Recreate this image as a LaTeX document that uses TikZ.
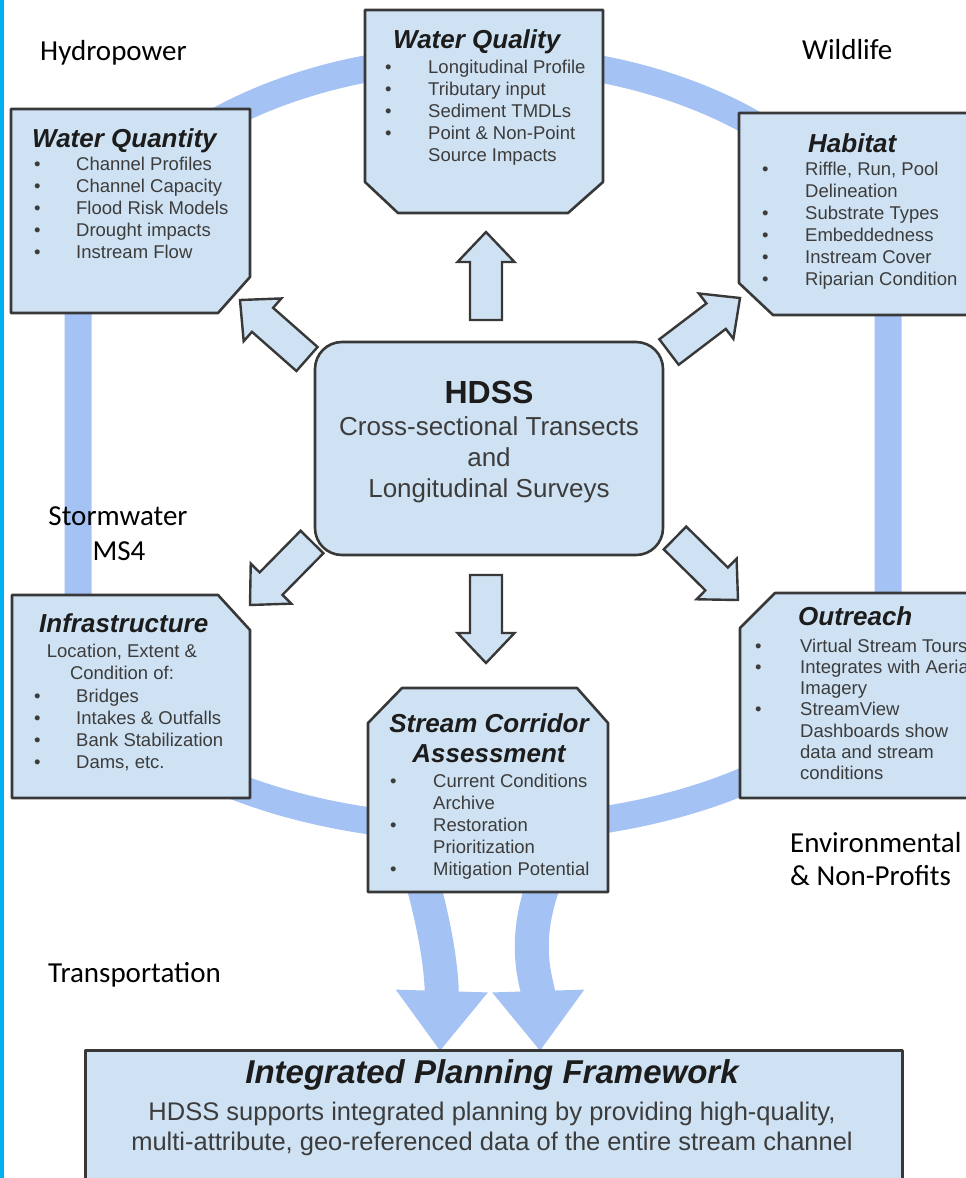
\documentclass[tikz,border=0pt]{standalone}
\usepackage{fontspec}
\setmainfont{Liberation Sans}
\newfontfamily\calib{Carlito}
\usetikzlibrary{arrows.meta, calc}

\definecolor{boxc}{HTML}{CFE2F3}
\definecolor{ringc}{HTML}{A4C2F4}
\definecolor{edgec}{HTML}{383838}
\definecolor{txtc}{HTML}{3C3C3C}
\definecolor{ttlc}{HTML}{1C1C1C}
\definecolor{barc}{HTML}{00B0F0}

\newcommand{\blist}[2][42pt]{\begin{tabular}[t]{@{}p{#1}@{}l@{}}#2\end{tabular}}
\newcommand{\ctab}[1]{\begin{tabular}[t]{@{}c@{}}#1\end{tabular}}
% block arrow from tail #1 to tip #2
\newcommand{\blockarrow}[2]{%
  \coordinate (hb) at ($(#2)!30pt!(#1)$);
  \draw[barrow] ($(#1)!16pt!90:(#2)$) -- ($(hb)!16pt!90:(#2)$) -- ($(hb)!28.5pt!90:(#2)$) -- (#2)
    -- ($(hb)!28.5pt!-90:(#2)$) -- ($(hb)!16pt!-90:(#2)$) -- ($(#1)!16pt!-90:(#2)$) -- cycle;
}

\begin{document}
\begin{tikzpicture}[x=1pt, y=-1pt,
  boxd/.style={draw=edgec, line width=2.6pt, fill=boxc, line join=round},
  barrow/.style={draw=edgec, line width=2.4pt, fill=boxc, line join=miter},
  ring/.style={draw=ringc, line width=27pt},
  bigarr/.style={draw=ringc, line width=34pt, -{Triangle[width=88pt,length=60pt]}},
  ttl/.style={font=\fontsize{26}{30}\selectfont\bfseries\itshape, text=ttlc, inner sep=0pt, anchor=base west},
  lst/.style={font=\fontsize{18.5}{22}\selectfont, text=txtc, inner sep=0pt, anchor=base west},
  lbl/.style={font=\calib\fontsize{29}{35}\selectfont, inner sep=0pt, anchor=base west}]

\useasboundingbox (0,0) rectangle (966,1178);
\clip (0,0) rectangle (966,1178);
\fill[white] (0,0) rectangle (966,1178);

% =============== RING ===============
\draw[ring] (78,625) -- (78,315) arc[start angle=180, end angle=360, x radius=405, y radius=257]
  -- (888,625) arc[start angle=0, end angle=180, x radius=405, y radius=204] -- cycle;

% =============== OUTPUT ARROWS ===============
\coordinate (scaL) at (422,880);
\coordinate (scaR) at (545,880);
\coordinate (ipfL) at (440,1051);
\coordinate (ipfR) at (540,1051);
\draw[bigarr] (scaL) .. controls (440,945) and (442,985) .. (ipfL);
\draw[bigarr] (scaR) .. controls (520,945) and (538,985) .. (ipfR);

% =============== BOXES ===============
\draw[boxd] (11,109) -- (250,109) -- (250,277) -- (218,313) -- (11,313) -- cycle;
\draw[boxd] (365,10) -- (603,10) -- (603,182) -- (568,213) -- (398,213) -- (365,182) -- cycle;
\draw[boxd] (739,113) -- (975,113) -- (975,315) -- (773,315) -- (739,283) -- cycle;
\draw[boxd] (12,595) -- (218,595) -- (250,630) -- (250,798) -- (12,798) -- cycle;
\draw[boxd] (368,723) -- (402,688) -- (577,688) -- (608,723) -- (608,892) -- (368,892) -- cycle;
\draw[boxd] (740,628) -- (775,593) -- (975,593) -- (975,798) -- (740,798) -- cycle;
\node[boxd, rounded corners=27pt, minimum width=348pt, minimum height=213pt] (hdss) at (489,448.5) {};
\node[boxd, minimum width=817pt, minimum height=200pt, anchor=north west] (ipf) at (84,1049) {};

% =============== BLOCK ARROWS ===============
\coordinate (upT) at (486,320);  \coordinate (upH) at (486,232);
\coordinate (dnT) at (486,575);  \coordinate (dnH) at (486,663);
\coordinate (ulT) at (307,359);  \coordinate (ulH) at (240,300);
\coordinate (urT) at (669,352);  \coordinate (urH) at (740,298);
\coordinate (llT) at (312,542);  \coordinate (llH) at (250,605);
\coordinate (lrT) at (675,538);  \coordinate (lrH) at (738,600);
\blockarrow{upT}{upH}
\blockarrow{dnT}{dnH}
\blockarrow{ulT}{ulH}
\blockarrow{urT}{urH}
\blockarrow{llT}{llH}
\blockarrow{lrT}{lrH}

% =============== TEXTS ===============
\node[ttl] (qtyT) at (32,147) {Water Quantity};
\node[lst] (qtyL) at (34,170) {\blist{\textbullet & Channel Profiles\\ \textbullet & Channel Capacity\\
  \textbullet & Flood Risk Models\\ \textbullet & Drought impacts\\ \textbullet & Instream Flow}};

\node[ttl] (qlyT) at (393,48) {Water Quality};
\node[lst] (qlyL) at (385,73) {\blist[43pt]{\textbullet & Longitudinal Profile\\ \textbullet & Tributary input\\
  \textbullet & Sediment TMDLs\\ \textbullet & Point \& Non-Point\\ & Source Impacts}};

\node[ttl] (habT) at (808,152) {Habitat};
\node[lst] (habL) at (762,175) {\blist[43pt]{\textbullet & Riffle, Run, Pool\\ & Delineation\\
  \textbullet & Substrate Types\\ \textbullet & Embeddedness\\ \textbullet & Instream Cover\\
  \textbullet & Riparian Condition}};

\node[ttl] (infT) at (39,632) {Infrastructure};
\node[lst, anchor=base] (infC) at (122,657) {\ctab{Location, Extent \&\\Condition of:}};
\node[lst] (infL) at (34,702) {\blist{\textbullet & Bridges\\ \textbullet & Intakes \& Outfalls\\
  \textbullet & Bank Stabilization\\ \textbullet & Dams, etc.}};

\node[ttl, anchor=base] (scaT) at (489,732) {\ctab{Stream Corridor\\Assessment}};
\node[lst] (scaLst) at (390,787) {\blist[43pt]{\textbullet & Current Conditions\\ & Archive\\
  \textbullet & Restoration\\ & Prioritization\\ \textbullet & Mitigation Potential}};

\node[ttl] (outT) at (798,625) {Outreach};
\node[lst, font=\fontsize{18.5}{21.3}\selectfont] (outL) at (755,652) {\blist[45pt]{\textbullet & Virtual Stream Tours\\
  \textbullet & Integrates with Aerial\\ & Imagery\\ \textbullet & StreamView\\ & Dashboards show\\
  & data and stream\\ & conditions}};

\node[inner sep=0pt, anchor=base, text=ttlc, font=\fontsize{32}{36}\selectfont\bfseries] (hdssT) at (489,403) {HDSS};
\node[inner sep=0pt, anchor=base, text=txtc, font=\fontsize{26}{31}\selectfont] (hdssL) at (489,435)
  {\ctab{Cross-sectional Transects\\and\\Longitudinal Surveys}};

\node[inner sep=0pt, anchor=base, text=ttlc, font=\fontsize{33}{36}\selectfont\bfseries\itshape] (ipfT) at (492,1083) {Integrated Planning Framework};
\node[inner sep=0pt, anchor=base, text=txtc, font=\fontsize{25.5}{30}\selectfont] (ipfL1) at (492,1120)
  {\ctab{HDSS supports integrated planning by providing high-quality,\\multi-attribute, geo-referenced data of the entire stream channel}};

% =============== STAKEHOLDERS ===============
\node[lbl] (hydro) at (40,60) {Hydropower};
\node[lbl] (wild) at (802,59) {Wildlife};
\node[lbl, anchor=base] (storm) at (118,525) {Stormwater};
\node[lbl, anchor=base] (ms4) at (119,560) {MS4};
\node[lbl] (env) at (790,852) {Environmental};
\node[lbl] (nonp) at (790,885) {\& Non-Profits};
\node[lbl] (trans) at (48,982) {Transportation};

\draw[barc, line width=3.5pt] (1.75,0) -- (1.75,1178);

\end{tikzpicture}
\end{document}
